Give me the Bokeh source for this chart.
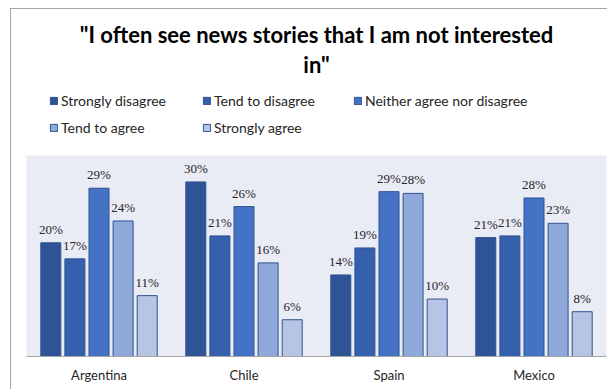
from bokeh.plotting import figure
from bokeh.layouts import column
from bokeh.models import (ColumnDataSource, FactorRange, Range1d, LabelSet, Label,
                          Legend, LegendItem)
from bokeh.transform import dodge
from bokeh.embed import file_html
from bokeh.resources import INLINE

countries = ["Argentina", "Chile", "Spain", "Mexico"]
series = ["Strongly disagree", "Tend to disagree", "Neither agree nor disagree",
          "Tend to agree", "Strongly agree"]
strongly_disagree = [19.8, 30.4, 14.2, 20.7]
tend_to_disagree = [17.0, 21.0, 18.9, 21.0]
neither = [29.3, 26.1, 28.7, 27.6]
tend_to_agree = [23.6, 16.3, 28.4, 23.2]
strongly_agree = [10.6, 6.4, 10.0, 7.8]
values = [strongly_disagree, tend_to_disagree, neither, tend_to_agree, strongly_agree]
colors = ["#2F5496", "#3560AD", "#4472C4", "#8FA8DA", "#B8C4E4"]
title_lines = ['"I often see news stories that I am not interested', 'in"']

FONT = "Lato"
TXT = "#262626"
EDGE = "#2F528F"

sources = [ColumnDataSource(dict(country=countries, val=v, lab=[f"{round(x)}%" for x in v]))
           for v in values]

# ---- header: title + legend (frame aligned with the chart frame: x from 26) ----
HEAD_H = 155
FX = 26
top = figure(width=607, height=HEAD_H, x_range=FactorRange(*countries, range_padding=0),
             y_range=Range1d(0, 35), output_backend="svg", toolbar_location=None,
             min_border_left=FX, min_border_right=1, min_border_top=0, min_border_bottom=0)
top.axis.visible = False
top.grid.visible = False
top.outline_line_color = None
top.background_fill_color = None
top.border_fill_color = None

for txt, base in zip(title_lines, [34, 64]):
    top.add_layout(Label(x=316 - FX, y=HEAD_H - base, x_units="screen", y_units="screen",
                         text=txt, text_align="center", text_baseline="alphabetic",
                         text_font=FONT, text_font_size="22px", text_font_style="bold",
                         text_color="black"))

legend_pos = [(49 - FX, HEAD_H - 109), (202 - FX, HEAD_H - 109), (353 - FX, HEAD_H - 109),
              (49 - FX, HEAD_H - 136), (202 - FX, HEAD_H - 136)]
for i, name in enumerate(series):
    r = top.vbar(x="country", top="val", width=0.1, source=sources[i], visible=False,
                 fill_color=colors[i], line_color=EDGE, line_width=1)
    lg = Legend(items=[LegendItem(label=name, renderers=[r])], location=legend_pos[i],
                padding=0, margin=0, border_line_color=None, background_fill_alpha=0,
                glyph_width=9, glyph_height=9, label_standoff=3, label_height=16,
                label_text_font=FONT, label_text_font_size="14px", label_text_color=TXT)
    top.add_layout(lg, "center")

# ---- main chart ----
p = figure(width=607, height=389 - HEAD_H, x_range=FactorRange(*countries, range_padding=0),
           y_range=Range1d(0, 35), output_backend="svg", toolbar_location=None,
           min_border_left=FX, min_border_right=1, min_border_top=0, min_border_bottom=33)
p.background_fill_color = "#E9EBF5"
p.border_fill_color = None
p.outline_line_color = None
p.xgrid.visible = False
p.ygrid.visible = False
p.yaxis.visible = False
p.xaxis.axis_line_color = "#A6A6A6"
p.xaxis.major_tick_line_color = None
p.xaxis.minor_tick_line_color = None
p.xaxis.major_label_text_font = FONT
p.xaxis.major_label_text_font_size = "13px"
p.xaxis.major_label_text_color = TXT
p.xaxis.major_label_standoff = 4

pitch = 24.1 / 145.0
bar_w = 20.0 / 145.0
offsets = [(i - 2) * pitch for i in range(5)]

for i, name in enumerate(series):
    p.vbar(x=dodge("country", offsets[i], range=p.x_range), top="val", width=bar_w,
           source=sources[i], fill_color=colors[i], line_color=EDGE, line_width=1)
    p.add_layout(LabelSet(x=dodge("country", offsets[i], range=p.x_range), y="val", text="lab",
                          source=sources[i], text_align="center", text_baseline="alphabetic",
                          y_offset=9, text_font=FONT, text_font_size="13px", text_color=TXT))

layout = column(top, p, spacing=0, styles={
    "background": "linear-gradient(#A6A6A6,#A6A6A6) 10px 8px / 1px 100% no-repeat, "
                  "linear-gradient(#A6A6A6,#A6A6A6) 10px 8px / 100% 1px no-repeat, #ffffff"})

open("out.html", "w").write(file_html(layout, INLINE))
